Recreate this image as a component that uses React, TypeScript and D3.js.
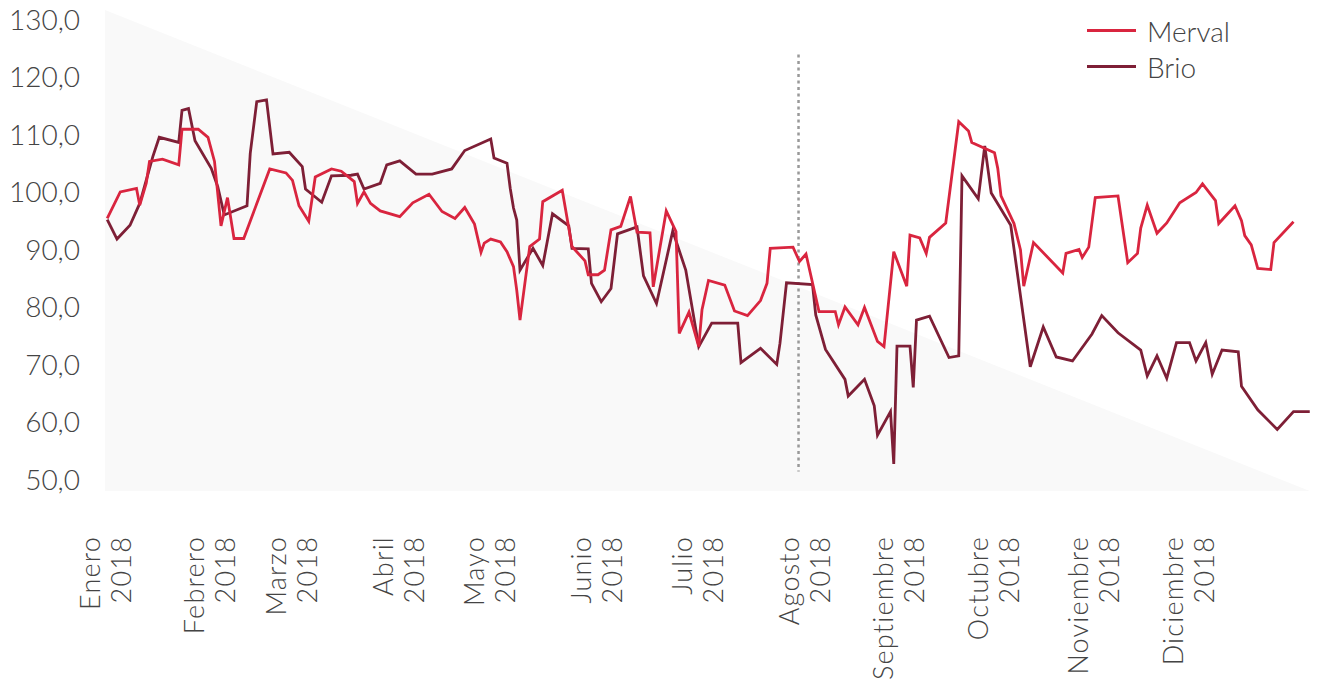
import React, { useEffect, useRef } from 'react';
import * as d3 from 'd3';

// day = days since 1 Jan 2018
const mervalDays = [1, 5, 10, 11, 13, 14, 18, 23, 24, 29, 32, 34, 36, 38, 40, 43, 51, 56, 58, 60, 63, 65, 70, 73, 77, 78, 80, 82, 85, 91, 95, 100, 104, 108, 111, 114, 116, 117, 119, 122, 124, 126, 127, 128, 131, 134, 135, 141, 144, 148, 149, 152, 154, 156, 159, 162, 164, 168, 169, 173, 176, 177, 180, 183, 184, 186, 191, 194, 198, 202, 204, 205, 212, 214, 216, 220, 225, 226, 228, 232, 234, 238, 240, 243, 247, 248, 251, 253, 254, 259, 263, 266, 267, 274, 275, 276, 280, 282, 283, 286, 295, 296, 300, 301, 303, 305, 312, 315, 318, 319, 321, 324, 327, 331, 336, 338, 342, 343, 348, 350, 351, 353, 355, 359, 360, 366];
const mervalValues = [95.5, 100.1, 100.7, 97.8, 101.6, 105.4, 105.8, 104.8, 111.0, 111.0, 109.6, 105.4, 94.2, 99.1, 92.0, 92.0, 104.1, 103.4, 102.1, 97.7, 95.0, 102.7, 104.1, 103.7, 101.9, 98.1, 100.1, 98.1, 96.8, 95.8, 98.2, 99.7, 96.7, 95.5, 97.4, 94.5, 89.6, 91.2, 91.9, 91.4, 89.7, 87.1, 83.0, 77.8, 90.6, 91.9, 98.4, 100.4, 90.6, 88.1, 85.7, 85.7, 86.5, 93.5, 94.1, 99.3, 93.1, 93.0, 83.6, 96.8, 93.2, 75.5, 79.2, 73.2, 79.6, 84.7, 83.9, 79.4, 78.6, 81.2, 84.2, 90.3, 90.5, 88.0, 89.3, 79.3, 79.3, 77.0, 80.1, 77.0, 80.0, 74.1, 73.2, 89.7, 83.7, 92.6, 92.1, 89.4, 92.2, 94.7, 112.3, 110.7, 108.7, 106.9, 104.2, 99.4, 94.6, 90.0, 83.7, 91.3, 86.0, 89.4, 90.1, 88.7, 90.5, 99.1, 99.4, 87.8, 89.4, 93.8, 97.8, 92.9, 94.7, 98.2, 100.0, 101.5, 98.6, 94.6, 97.7, 95.1, 92.5, 90.9, 86.8, 86.6, 91.3, 94.9];

const brioDays = [1, 4, 8, 11, 15, 17, 23, 24, 26, 28, 33, 35, 37, 44, 45, 47, 50, 52, 57, 61, 62, 67, 70, 76, 78, 80, 85, 87, 91, 96, 101, 107, 111, 119, 120, 124, 125, 126, 127, 128, 132, 135, 138, 143, 144, 149, 150, 153, 156, 158, 164, 166, 170, 175, 179, 183, 187, 195, 196, 202, 207, 208, 210, 218, 219, 222, 228, 229, 234, 237, 238, 242, 243, 244, 248, 249, 250, 254, 260, 263, 264, 269, 271, 273, 279, 285, 289, 293, 298, 304, 307, 312, 319, 321, 324, 327, 330, 334, 336, 339, 341, 344, 349, 350, 355, 361, 366, 371];
const brioValues = [95.3, 91.9, 94.3, 98.1, 106.2, 109.6, 108.7, 114.3, 114.6, 109.0, 104.2, 101.0, 96.1, 97.7, 106.8, 115.8, 116.1, 106.7, 107.0, 104.5, 100.6, 98.3, 102.9, 103.0, 103.2, 100.6, 101.6, 104.8, 105.5, 103.2, 103.2, 104.1, 107.3, 109.3, 106.0, 105.1, 100.7, 97.3, 95.2, 86.5, 90.3, 87.3, 96.3, 94.2, 90.3, 90.2, 84.2, 81.0, 83.3, 92.8, 94.0, 85.5, 80.7, 93.3, 86.5, 73.2, 77.3, 77.3, 70.4, 72.9, 70.1, 73.8, 84.3, 84.0, 78.7, 72.7, 67.5, 64.6, 67.5, 62.9, 57.8, 61.9, 52.8, 73.3, 73.3, 66.1, 77.8, 78.5, 71.3, 71.6, 102.9, 98.9, 108.1, 99.9, 94.3, 69.7, 76.6, 71.4, 70.7, 75.4, 78.6, 75.6, 72.6, 68.1, 71.6, 67.7, 73.9, 73.9, 70.7, 73.9, 68.4, 72.6, 72.3, 66.3, 62.2, 58.8, 61.9, 61.9];

const monthNames = ['Enero', 'Febrero', 'Marzo', 'Abril', 'Mayo', 'Junio', 'Julio', 'Agosto', 'Septiembre', 'Octubre', 'Noviembre', 'Diciembre'];
const monthLabelDays = [1, 33, 58, 91, 119, 152, 183, 216, 245, 274, 305, 334];
const yTicks = [50, 60, 70, 80, 90, 100, 110, 120, 130];
const markerDay = 213.7;

const seriesNames = ['Merval', 'Brio'];
const seriesColors = ['#d9253f', '#7e1f36'];

const FONT = "Lato, 'Open Sans', sans-serif";

const App: React.FC = () => {
  const svgRef = useRef<SVGSVGElement>(null);

  useEffect(() => {
    if (!svgRef.current) return;
    const svg = d3.select(svgRef.current);
    svg.selectAll("*").remove();

    const x = d3.scaleLinear().domain([0, 371]).range([104, 1309.75]);
    const y = d3.scaleLinear().domain([50, 130]).range([480, 20]);

    // shaded triangle behind the lines
    const x0 = x(0) + 1;
    const x1 = x(371);
    svg.append("path")
      .attr("d", `M${x0},${y(130) - 10}L${x1},${y(50) + 11}L${x0},${y(50) + 11}Z`)
      .attr("fill", "#f9f9f9");

    // y axis labels
    svg.append("g")
      .selectAll("text")
      .data(yTicks)
      .join("text")
      .attr("x", 80)
      .attr("y", d => y(d))
      .attr("dy", "0.35em")
      .attr("text-anchor", "end")
      .attr("font-family", FONT)
      .attr("font-weight", 300)
      .attr("font-size", 28)
      .attr("fill", "#444")
      .text(d => d3.format(".1f")(d).replace(".", ","));

    // month labels, rotated, two lines
    const months = svg.append("g")
      .selectAll("g")
      .data(monthNames)
      .join("g")
      .attr("transform", (_, i) => `translate(${x(monthLabelDays[i]) - 2},536) rotate(-90)`);
    months.append("text")
      .attr("x", 0)
      .attr("y", -5)
      .text(d => d);
    months.append("text")
      .attr("x", 0)
      .attr("y", 26)
      .text("2018");
    months.selectAll("text")
      .attr("text-anchor", "end")
      .attr("font-family", FONT)
      .attr("font-weight", 300)
      .attr("font-size", 27)
      .attr("letter-spacing", 1.2)
      .attr("fill", "#444");

    // dotted marker
    svg.append("line")
      .attr("x1", x(markerDay))
      .attr("x2", x(markerDay))
      .attr("y1", y(124))
      .attr("y2", y(51.5))
      .attr("stroke", "#999")
      .attr("stroke-width", 2.5)
      .attr("stroke-dasharray", "3,3.5");

    const line = d3.line<[number, number]>()
      .x(d => x(d[0]))
      .y(d => y(d[1]));

    const series: [number, number][][] = [
      mervalDays.map((d, i) => [d, mervalValues[i]]),
      brioDays.map((d, i) => [d, brioValues[i]]),
    ];

    // draw Merval on top
    [1, 0].forEach(i => {
      svg.append("path")
        .datum(series[i])
        .attr("fill", "none")
        .attr("stroke", seriesColors[i])
        .attr("stroke-width", 2.8)
        .attr("stroke-linejoin", "miter")
        .attr("d", line);
    });

    // legend
    const legend = svg.append("g")
      .selectAll("g")
      .data(seriesNames)
      .join("g")
      .attr("transform", (_, i) => `translate(1087,${30.5 + i * 36})`);
    legend.append("line")
      .attr("x1", 0)
      .attr("x2", 49)
      .attr("stroke", (_, i) => seriesColors[i])
      .attr("stroke-width", 3);
    legend.append("text")
      .attr("x", 60)
      .attr("y", 11)
      .attr("font-family", FONT)
      .attr("font-weight", 300)
      .attr("font-size", 28)
      .attr("fill", "#444")
      .text(d => d);
  }, []);

  return (
    <svg
      ref={svgRef}
      width={1317}
      height={682}
      style={{ position: 'absolute', left: 0, top: 0, background: '#fff' }}
    />
  );
};

export default App;
